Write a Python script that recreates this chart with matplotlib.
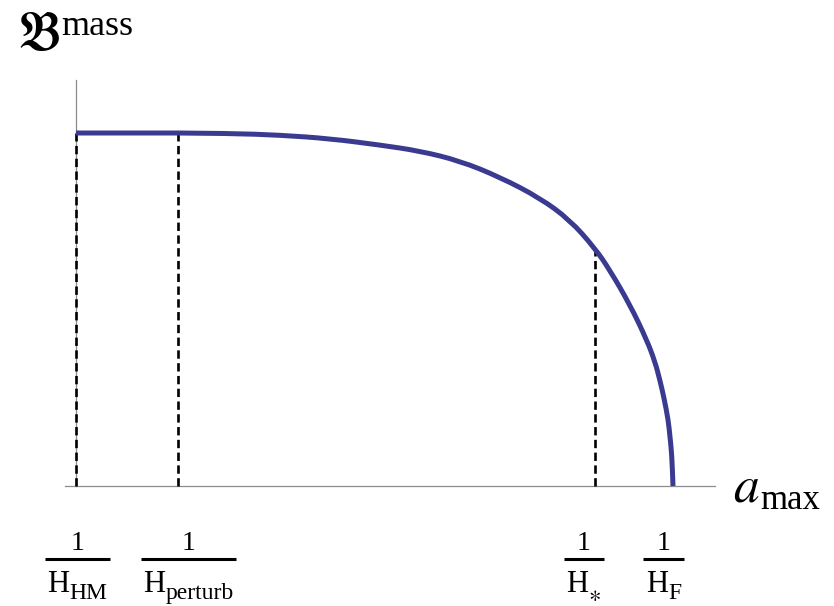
import matplotlib
matplotlib.use("Agg")
import matplotlib.pyplot as plt
from matplotlib.path import Path
from matplotlib.patches import PathPatch
import numpy as np

plt.rcParams["mathtext.fontset"] = "stix"
plt.rcParams["font.family"] = ["Liberation Serif", "DejaVu Serif"]
plt.rcParams["lines.scale_dashes"] = False

# Bound on the mass as a function of the maximal scale factor (normalised units)
a_max = [0.000, 0.171, 0.258, 0.342, 0.425, 0.509, 0.576, 0.643, 0.710,
         0.777, 0.827, 0.869, 0.894, 0.928, 0.956, 0.970, 0.978, 0.985,
         0.992, 0.995, 0.998, 1.000]
b_mass = [1.000, 1.000, 0.999, 0.994, 0.984, 0.966, 0.949, 0.921, 0.875,
          0.816, 0.754, 0.674, 0.612, 0.513, 0.414, 0.351, 0.300, 0.249,
          0.187, 0.139, 0.088, 0.000]

# Special scale factors marked on the horizontal axis
mark_x = [0.000, 0.171, 0.869, 1.000]
mark_names = ["HM", "perturb", r"$\ast$", "F"]
mark_dashed = [True, True, True, False]
mark_label_shift = [1.5, 10.5, -11.0, -9.5]   # label centre offset, px

W, H = 834, 606
fig = plt.figure(figsize=(W / 100, H / 100), dpi=100)
ax = fig.add_axes([0, 0, 1, 1])
ax.set_xlim(-76 / 597, (W - 76) / 597)
ax.set_ylim((486 - H) / 353, 486 / 353)
ax.axis("off")

axis_col = "#8c8c8c"
ax.plot([-11 / 597, 639 / 597], [0, 0], color=axis_col, lw=0.9, zorder=1)
ax.plot([0, 0], [0, 406 / 353], color=axis_col, lw=0.9, zorder=1)

# smooth quadratic B-spline path through the curve samples
pts = np.column_stack([a_max, b_mass])
verts = [pts[0], pts[1]]
codes = [Path.MOVETO, Path.LINETO]
for i in range(2, len(pts) - 1):
    mid = (pts[i] + pts[i + 1]) / 2
    verts += [pts[i], mid]
    codes += [Path.CURVE3, Path.CURVE3]
verts.append(pts[-1])
codes.append(Path.LINETO)
curve_col = "#3a3a90"
ax.add_patch(PathPatch(Path(verts, codes), facecolor="none",
                       edgecolor=curve_col, lw=3.6, capstyle="butt",
                       joinstyle="round", zorder=3))

for x, dashed in zip(mark_x, mark_dashed):
    if dashed:
        top = float(np.interp(x, a_max, b_mass))
        ax.plot([x, x], [0, top], color="black", lw=1.9,
                dashes=(6.0, 3.2), zorder=2)

fig.canvas.draw()
renderer = fig.canvas.get_renderer()
to_data = ax.transData.inverted()


def px_to_data(px, py):
    return to_data.transform((px, H - py))


def width_px(t):
    return t.get_window_extent(renderer).width


for x, name, dx in zip(mark_x, mark_names, mark_label_shift):
    cx = ax.transData.transform((x, 0))[0] + dx
    # numerator
    nx, ny = px_to_data(cx, 544)
    ax.text(nx, ny, "1", ha="center", va="center", fontsize=20)
    # denominator H_name
    _, by = px_to_data(0, 592)
    hm = ax.text(0, by, "H", ha="left", va="baseline", fontsize=22)
    if name.startswith("$"):
        _, sy = px_to_data(0, 596)
        sb = ax.text(0, sy, name, ha="left", va="center", fontsize=17)
    else:
        _, sy = px_to_data(0, 599)
        sb = ax.text(0, sy, name, ha="left", va="baseline", fontsize=17)
    w1, w2 = width_px(hm), width_px(sb)
    left = cx - (w1 + w2) / 2
    hm.set_x(px_to_data(left, 0)[0])
    sb.set_x(px_to_data(left + w1, 0)[0])
    half = (w1 + w2) / 2 + 2.5
    x0 = px_to_data(cx - half, 0)[0]
    x1 = px_to_data(cx + half, 0)[0]
    _, bar_y = px_to_data(0, 559)
    ax.plot([x0, x1], [bar_y, bar_y], color="black", lw=2.2,
            solid_capstyle="butt")

# horizontal axis title a_max
ax_x, ax_y = px_to_data(733, 502)
t_a = ax.text(ax_x, ax_y, r"$a$", fontsize=37, ha="left", va="baseline")
wa = width_px(t_a)
mx, my = px_to_data(733 + wa + 1, 509)
ax.text(mx, my, "max", fontsize=25, ha="left", va="baseline")

# vertical axis title B^mass
bx, by = px_to_data(17, 50)
t_b = ax.text(bx, by, r"$\mathfrak{B}$", fontsize=38, ha="left",
              va="baseline")
wb = width_px(t_b)
sx, sy = px_to_data(17 + wb + 1, 35)
ax.text(sx, sy, "mass", fontsize=26, ha="left", va="baseline")

fig.savefig("out.png", dpi=100)
